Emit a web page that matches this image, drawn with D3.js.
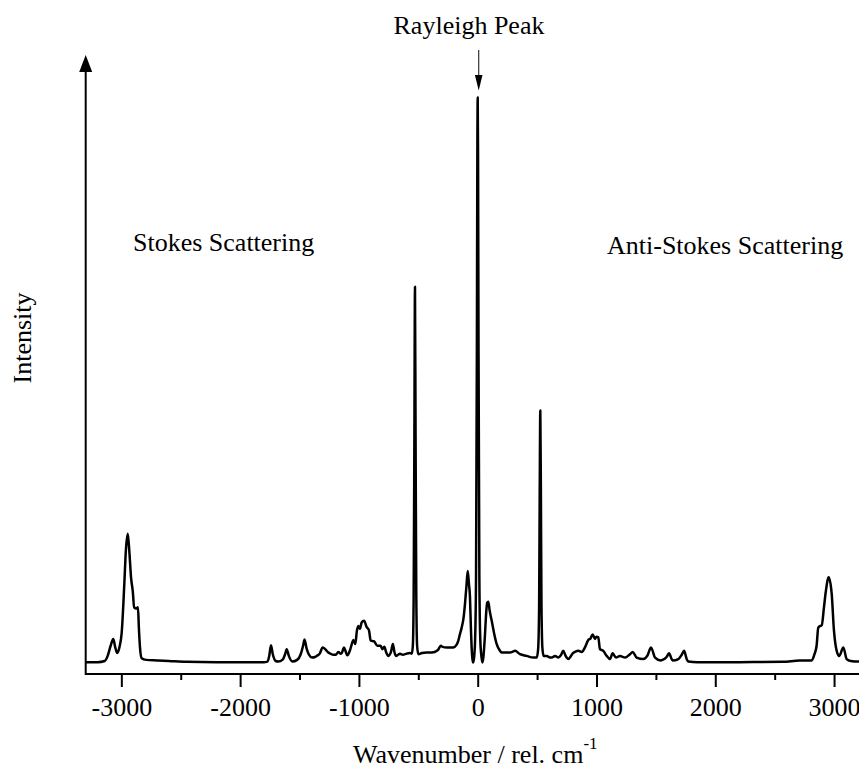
<!DOCTYPE html>
<html>
<head>
<meta charset="utf-8">
<script src="https://cdn.jsdelivr.net/npm/d3@7"></script>
<style>
  html, body { margin: 0; padding: 0; background: #fff; }
  svg { display: block; }
  text { font-family: "Liberation Serif", "Times New Roman", serif; fill: #000; }
</style>
</head>
<body>
<svg id="chart" width="859" height="769"></svg>
<script>
// Raman spectrum: Stokes (negative shift), Rayleigh line at 0, anti-Stokes (positive shift)
const wavenumbers = [
  -3300, -3200, -3140, -3115, -3090, -3068, -3050, -3034, -3015, -2997,
  -2975, -2962, -2946, -2933, -2918, -2904, -2892, -2875, -2860, -2852,
  -2843, -2829, -2790, -2700, -2600, -2450, -2200, -1800, -1771, -1755,
  -1740, -1725, -1700, -1680, -1640, -1620, -1608, -1590, -1560, -1520,
  -1490, -1470, -1458, -1440, -1420, -1395, -1370, -1355, -1330, -1305,
  -1280, -1258, -1240, -1215, -1195, -1173, -1155, -1145, -1125, -1110,
  -1098, -1075, -1060, -1047, -1030, -1018, -1005, -991, -977, -957,
  -934, -915, -901, -873, -845, -817, -803, -786, -770, -752,
  -730, -714, -700, -688, -670, -654, -631, -598, -570, -555,
  -546, -539, -533, -528, -523, -517, -510, -500, -470, -430,
  -387, -337, -310, -295, -261, -205, -180, -163, -150, -135,
  -120, -107, -95, -84, -74, -65, -57, -51, -44, -38,
  -30, -22, -14, -7, -3, 0, 3, 7, 14, 22,
  32, 40, 48, 60, 72, 80, 89, 100, 118, 140,
  160, 185, 202, 240, 272, 300, 314, 356, 412, 468,
  497, 509, 517, 522, 527, 532, 537, 545, 555, 581,
  609, 623, 651, 679, 700, 721, 740, 763, 785, 800,
  819, 847, 876, 903, 931, 950, 968, 987, 1000, 1015,
  1029, 1057, 1086, 1114, 1136, 1164, 1198, 1240, 1282, 1305,
  1338, 1394, 1430, 1459, 1493, 1540, 1590, 1610, 1641, 1689,
  1720, 1737, 1760, 1773, 1850, 2200, 2570, 2710, 2811, 2835,
  2853, 2867, 2885, 2896, 2915, 2930, 2955, 2980, 2999, 3022,
  3044, 3078, 3106, 3140, 3204, 3300
];
const intensities = [
  0.1, 0.1, 0.3, 1.2, 3.0, 4.2, 2.6, 1.7, 2.8, 5.3,
  13.9, 19.8, 22.8, 19.8, 15.0, 12.7, 9.8, 9.6, 9.8, 6.0,
  2.7, 0.8, 0.5, 0.4, 0.3, 0.15, 0.1, 0.1, 0.2, 1.2,
  3.1, 1.5, 0.3, 0.2, 0.6, 1.6, 2.4, 1.2, 0.2, 0.5,
  1.5, 3.0, 4.1, 2.5, 1.4, 0.9, 1.0, 1.2, 1.6, 2.7,
  2.3, 1.8, 1.6, 1.4, 1.4, 1.9, 1.6, 1.7, 2.7, 1.9,
  1.3, 2.2, 3.3, 4.0, 3.3, 5.5, 6.5, 6.0, 7.1, 7.4,
  6.3, 5.7, 3.9, 3.8, 3.0, 3.0, 2.4, 2.8, 1.8, 1.2,
  1.9, 3.3, 1.8, 1.2, 1.4, 1.6, 1.4, 1.6, 1.7, 1.6,
  3.0, 12, 40, 66.5, 40, 12, 3.0, 1.5, 1.7, 1.8,
  1.8, 2.2, 3.0, 2.8, 2.7, 2.7, 3.1, 3.9, 5.0, 6.2,
  7.8, 10.4, 13.5, 16.2, 14.0, 11.6, 6.0, 2.7, 0.6, 0.05,
  1.0, 4, 15, 55, 90, 100, 90, 55, 15, 4,
  1.0, 0.05, 1.0, 4.5, 9.0, 10.6, 10.8, 9.3, 7.4, 5.0,
  3.3, 2.2, 1.8, 1.8, 1.8, 2.0, 2.1, 1.5, 1.2, 0.9,
  0.9, 2.5, 10, 30, 44.6, 30, 10, 2.5, 1.2, 1.2,
  0.9, 0.9, 1.2, 0.9, 1.3, 2.1, 1.2, 0.65, 1.2, 1.65,
  1.9, 2.1, 1.9, 2.7, 4.0, 4.3, 5.0, 4.2, 4.6, 4.5,
  2.4, 2.1, 1.2, 0.65, 1.65, 0.9, 1.2, 0.9, 1.5, 1.9,
  0.9, 0.65, 1.3, 2.7, 0.9, 0.4, 1.0, 1.65, 0.4, 0.65,
  1.5, 2.1, 0.6, 0.2, 0.1, 0.1, 0.15, 0.4, 0.4, 1.5,
  3.0, 6.2, 6.5, 6.6, 9.8, 12.5, 15.1, 12.2, 5.7, 2.1,
  1.2, 2.7, 0.65, 0.3, 0.2, 0.2
];

const majorTicks = [-3000, -2000, -1000, 0, 1000, 2000, 3000];
const majorTickLabels = ["-3000", "-2000", "-1000", "0", "1000", "2000", "3000"];
const minorTicks = [-2500, -1500, -500, 500, 1500, 2500];

const xDomain = [-3300, 3300];
const yDomain = [-2, 107.5];

const svg = d3.select("#chart");

const x = d3.scaleLinear().domain(xDomain).range([85.7, 869.7]);
const y = d3.scaleLinear().domain(yDomain).range([674, 55]);

const axisY = y(yDomain[0]);
const fontSize = 26;

// spectrum trace
const points = wavenumbers.map((w, i) => [w, intensities[i]]);
const line = d3.line()
  .x(d => x(d[0]))
  .y(d => y(d[1]))
  .curve(d3.curveMonotoneX);

svg.append("path")
  .datum(points)
  .attr("fill", "none")
  .attr("stroke", "#000")
  .attr("stroke-width", 2.5)
  .attr("stroke-linejoin", "round")
  .attr("d", line);

// x axis: labelled major ticks and short minor ticks, pointing down
const xAxisMajor = d3.axisBottom(x)
  .tickValues(majorTicks)
  .tickFormat((d, i) => majorTickLabels[i])
  .tickSize(13)
  .tickSizeOuter(0);

const gx = svg.append("g")
  .attr("transform", `translate(0,${axisY})`)
  .call(xAxisMajor);
gx.select(".domain").remove();
gx.selectAll(".tick line").attr("stroke", "#000").attr("stroke-width", 2);
gx.selectAll(".tick text")
  .attr("y", 42)
  .attr("dy", null)
  .style("font-family", '"Liberation Serif", "Times New Roman", serif')
  .style("font-size", fontSize + "px")
  .attr("fill", "#000");

const gxMinor = svg.append("g")
  .attr("transform", `translate(0,${axisY})`)
  .call(d3.axisBottom(x).tickValues(minorTicks).tickFormat("").tickSize(6).tickSizeOuter(0));
gxMinor.select(".domain").remove();
gxMinor.selectAll(".tick line").attr("stroke", "#000").attr("stroke-width", 2);

// axis lines
svg.append("line")
  .attr("x1", x(xDomain[0])).attr("x2", x(xDomain[1]))
  .attr("y1", axisY).attr("y2", axisY)
  .attr("stroke", "#000").attr("stroke-width", 2);

const yTop = y(yDomain[1]);
svg.append("line")
  .attr("x1", x(xDomain[0])).attr("x2", x(xDomain[0]))
  .attr("y1", axisY + 1).attr("y2", yTop + 14)
  .attr("stroke", "#000").attr("stroke-width", 2);

// arrowhead on the intensity axis
const ax0 = x(xDomain[0]);
svg.append("path")
  .attr("d", `M${ax0},${yTop} L${ax0 - 6.5},${yTop + 17} L${ax0 + 6.5},${yTop + 17} Z`)
  .attr("fill", "#000");

// axis titles
svg.append("text")
  .attr("transform", "translate(31,338) rotate(-90)")
  .attr("text-anchor", "middle")
  .style("font-size", fontSize + "px")
  .text("Intensity");

const xt = svg.append("text")
  .attr("x", 353)
  .attr("y", 763)
  .style("font-size", fontSize + "px");
xt.append("tspan").text("Wavenumber / rel. cm");
xt.append("tspan")
  .attr("dy", -14)
  .style("font-size", "17px")
  .text("-1");

// annotations
svg.append("text")
  .attr("x", 469)
  .attr("y", 34)
  .attr("text-anchor", "middle")
  .style("font-size", fontSize + "px")
  .text("Rayleigh Peak");

const arrowX = x(0) + 1;
svg.append("line")
  .attr("x1", arrowX).attr("x2", arrowX)
  .attr("y1", 50).attr("y2", 78)
  .attr("stroke", "#333").attr("stroke-width", 1.2);
svg.append("path")
  .attr("d", `M${arrowX - 3.8},75 L${arrowX + 3.8},75 L${arrowX},90.5 Z`)
  .attr("fill", "#000");

svg.append("text")
  .attr("x", 133)
  .attr("y", 251)
  .style("font-size", fontSize + "px")
  .text("Stokes Scattering");

svg.append("text")
  .attr("x", 607)
  .attr("y", 254)
  .style("font-size", fontSize + "px")
  .text("Anti-Stokes Scattering");
</script>
</body>
</html>
